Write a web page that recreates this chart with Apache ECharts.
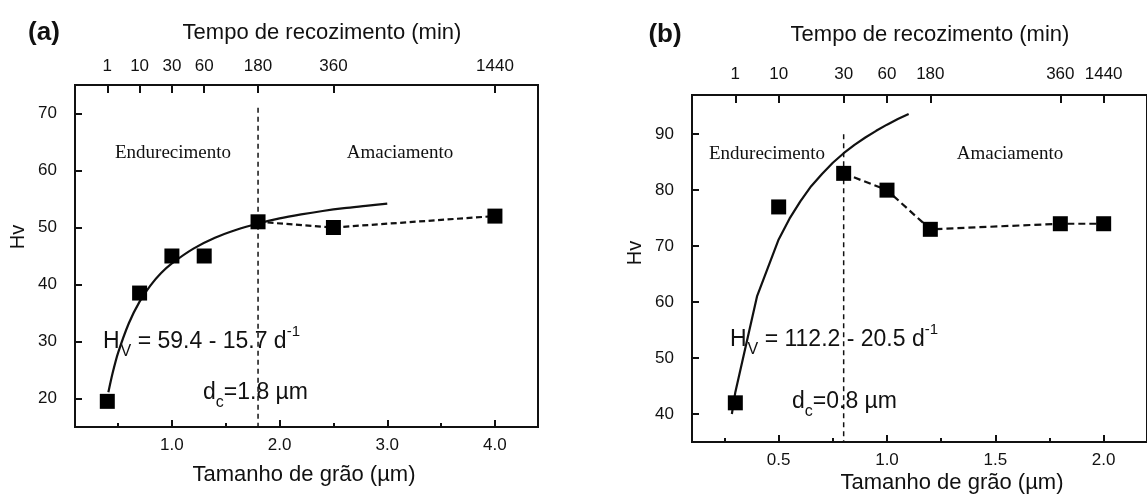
<!DOCTYPE html>
<html>
<head>
<meta charset="utf-8">
<script src="https://cdn.jsdelivr.net/npm/echarts@6/dist/echarts.min.js"></script>
<style>
  html, body { margin: 0; padding: 0; background: #fff; }
  #chart { width: 1147px; height: 494px; }
</style>
</head>
<body>
<div id="chart"></div>
<script>
// Panel (a): grain size (µm) and Vickers hardness of the annealed samples
const grainA = [0.4, 0.7, 1.0, 1.3, 1.8, 2.5, 4.0];
const hvA = [19.5, 38.5, 45, 45, 51, 50, 52];
// Hall-Petch fit line in panel (a)
const fitGrainA = [0.41, 0.45, 0.5, 0.6, 0.7, 0.8, 0.9, 1.0, 1.2, 1.4, 1.6, 1.8, 2.0, 2.2, 2.4, 2.6, 2.8, 3.0];
const fitHvA = [21.1, 24.5, 28.0, 33.2, 37.0, 39.8, 42.0, 43.7, 46.3, 48.2, 49.6, 50.7, 51.6, 52.3, 52.9, 53.4, 53.8, 54.2];
const dcA = 1.8;

// Panel (b)
const grainB = [0.3, 0.5, 0.8, 1.0, 1.2, 1.8, 2.0];
const hvB = [42, 77, 83, 80, 73, 74, 74];
const fitGrainB = [0.284, 0.3, 0.4, 0.5, 0.55, 0.6, 0.65, 0.7, 0.75, 0.8, 0.85, 0.9, 0.95, 1.0, 1.05, 1.1];
const fitHvB = [40.0, 43.9, 61.0, 71.2, 74.9, 78.0, 80.7, 82.9, 84.9, 86.6, 88.1, 89.4, 90.6, 91.7, 92.7, 93.6];
const dcB = 0.8;

// Annealing time of each sample (top axis), one per grain size
const timeLabels = ['1', '10', '30', '60', '180', '360', '1440'];

// Tick values
const xTicksA = [1, 2, 3, 4];
const xMinorA = [0.5, 1.5, 2.5, 3.5];
const yTicksA = [20, 30, 40, 50, 60, 70];
const xTicksB = [0.5, 1.0, 1.5, 2.0];
const xMinorB = [0.25, 0.75, 1.25, 1.75];
const yTicksB = [40, 50, 60, 70, 80, 90];

const SANS = "'Liberation Sans', Arial, sans-serif";
const SERIF = "'Liberation Serif', 'Times New Roman', serif";
const INK = '#111';
const TICK_FONT = 17;

const zip = (xs, ys) => xs.map((x, i) => [x, ys[i]]);

function bottomAxis(grid, min, max, ticks) {
  return {
    type: 'value', gridIndex: grid, position: 'bottom', min, max,
    axisLine: { show: false, onZero: false },
    splitLine: { show: false },
    axisTick: { show: true, inside: true, length: 7, customValues: ticks, lineStyle: { color: INK, width: 2 } },
    axisLabel: { customValues: ticks, margin: 10, fontSize: TICK_FONT, fontFamily: SANS, color: INK,
                 formatter: v => v.toFixed(1) }
  };
}
function minorAxis(grid, min, max, ticks) {
  return {
    type: 'value', gridIndex: grid, position: 'bottom', min, max,
    axisLine: { show: false, onZero: false },
    splitLine: { show: false },
    axisTick: { show: true, inside: true, length: 4, customValues: ticks, lineStyle: { color: INK, width: 2 } },
    axisLabel: { show: false }
  };
}
function topAxis(grid, min, max, positions, margin) {
  return {
    type: 'value', gridIndex: grid, position: 'top', min, max,
    axisLine: { show: false, onZero: false },
    splitLine: { show: false },
    axisTick: { show: true, inside: true, length: 8, customValues: positions, lineStyle: { color: INK, width: 2 } },
    axisLabel: { customValues: positions, margin, fontSize: TICK_FONT, fontFamily: SANS, color: INK,
                 formatter: v => {
                   let best = 0;
                   positions.forEach((p, i) => { if (Math.abs(p - v) < Math.abs(positions[best] - v)) best = i; });
                   return timeLabels[best];
                 } }
  };
}
function leftAxis(grid, min, max, ticks) {
  return {
    type: 'value', gridIndex: grid, position: 'left', min, max,
    axisLine: { show: false, onZero: false },
    splitLine: { show: false },
    axisTick: { show: true, inside: true, length: 7, customValues: ticks, lineStyle: { color: INK, width: 2 } },
    axisLabel: { customValues: ticks, margin: 18, fontSize: TICK_FONT, fontFamily: SANS, color: INK }
  };
}

function panelSeries(xIdx, yIdx, grain, hv, fitX, fitY, dc, dcTop, yMin, smooth, dash) {
  const iDc = grain.indexOf(dc);
  return [
    { type: 'line', xAxisIndex: xIdx, yAxisIndex: yIdx, data: zip(fitX, fitY), smooth,
      showSymbol: false, symbol: 'none', silent: true, z: 2,
      lineStyle: { color: INK, width: 2.2 } },
    { type: 'line', xAxisIndex: xIdx, yAxisIndex: yIdx,
      data: zip(grain.slice(iDc), hv.slice(iDc)), symbol: 'none', silent: true, z: 2,
      lineStyle: { color: INK, width: 2.2, type: dash } },
    { type: 'line', xAxisIndex: xIdx, yAxisIndex: yIdx, data: [[dc, dcTop], [dc, yMin]],
      symbol: 'none', silent: true, z: 1,
      lineStyle: { color: INK, width: 1.5, type: [5, 4] } },
    { type: 'scatter', xAxisIndex: xIdx, yAxisIndex: yIdx, data: zip(grain, hv),
      symbol: 'rect', symbolSize: 15, z: 3, itemStyle: { color: '#000', opacity: 1 } }
  ];
}

function txt(x, y, text, font, extra) {
  return Object.assign({
    type: 'text', x, y, silent: true,
    style: { text, font, fill: INK, align: 'center', verticalAlign: 'middle',
             textAlign: 'center', textVerticalAlign: 'middle' }
  }, extra || {});
}

// Inline formula with sub/superscripts: pieces laid out left to right
const measureCtx = document.createElement('canvas').getContext('2d');
function measure(text, font) { measureCtx.font = font; return measureCtx.measureText(text).width; }
const SUB = { size: 16, dy: 9.5 };
const SUP = { size: 15, dy: -10 };
function formula(x, y, parts) {
  const els = [];
  let cx = x;
  parts.forEach(p => {
    const size = p.size || 23;
    const font = `${size}px ${SANS}`;
    els.push({
      type: 'text', x: cx, y: y + (p.dy || 0), silent: true,
      style: { text: p.t, font, fill: INK, align: 'left', verticalAlign: 'middle',
               textAlign: 'left', textVerticalAlign: 'middle' }
    });
    cx += measure(p.t, font) + (p.gap || 0);
  });
  return els;
}

const titleFont = `22px ${SANS}`;
const panelFont = `bold 26px ${SANS}`;
const regionFont = `19px ${SERIF}`;

const option = {
  backgroundColor: '#fff',
  animation: false,
  grid: [
    { left: 75, top: 85, width: 463, height: 342, show: true, borderColor: INK, borderWidth: 2, backgroundColor: 'transparent' },
    { left: 692, top: 95, width: 457, height: 347, show: true, borderColor: INK, borderWidth: 2, backgroundColor: 'transparent' }
  ],
  xAxis: [
    bottomAxis(0, 0.1, 4.4, xTicksA),
    minorAxis(0, 0.1, 4.4, xMinorA),
    topAxis(0, 0.1, 4.4, grainA, 10),
    bottomAxis(1, 0.1, 2.2, xTicksB),
    minorAxis(1, 0.1, 2.2, xMinorB),
    topAxis(1, 0.1, 2.2, grainB, 12)
  ],
  yAxis: [
    leftAxis(0, 15, 75, yTicksA),
    leftAxis(1, 35, 97, yTicksB)
  ],
  series: [
    ...panelSeries(0, 0, grainA, hvA, fitGrainA, fitHvA, dcA, 71, 15, 0.3, [6, 3.5]),
    ...panelSeries(3, 1, grainB, hvB, fitGrainB, fitHvB, dcB, 90, 35, false, [7, 4])
  ],
  graphic: [
    txt(44, 33, '(a)', panelFont),
    txt(322, 33, 'Tempo de recozimento (min)', titleFont),
    txt(304, 475, 'Tamanho de grão (µm)', titleFont),
    txt(18, 237, 'Hv', `20px ${SANS}`, { rotation: Math.PI / 2 }),
    txt(173, 153, 'Endurecimento', regionFont),
    txt(400, 153, 'Amaciamento', regionFont),
    ...formula(103, 342, [{ t: 'H', gap: 1 }, { t: 'V', ...SUB }, { t: ' = 59.4 - 15.7 d' }, { t: '-1', ...SUP }]),
    ...formula(203, 393, [{ t: 'd' }, { t: 'c', ...SUB }, { t: '=1.8 µm' }]),

    txt(665, 35, '(b)', panelFont),
    txt(930, 35, 'Tempo de recozimento (min)', titleFont),
    txt(952, 483, 'Tamanho de grão (µm)', titleFont),
    txt(635, 253, 'Hv', `20px ${SANS}`, { rotation: Math.PI / 2 }),
    txt(767, 154, 'Endurecimento', regionFont),
    txt(1010, 154, 'Amaciamento', regionFont),
    ...formula(730, 340, [{ t: 'H', gap: 1 }, { t: 'V', ...SUB }, { t: ' = 112.2 - 20.5 d' }, { t: '-1', ...SUP }]),
    ...formula(792, 402, [{ t: 'd' }, { t: 'c', ...SUB }, { t: '=0.8 µm' }])
  ]
};

const chart = echarts.init(document.getElementById('chart'), null, { renderer: 'canvas', width: 1147, height: 494 });
chart.setOption(option);
</script>
</body>
</html>
